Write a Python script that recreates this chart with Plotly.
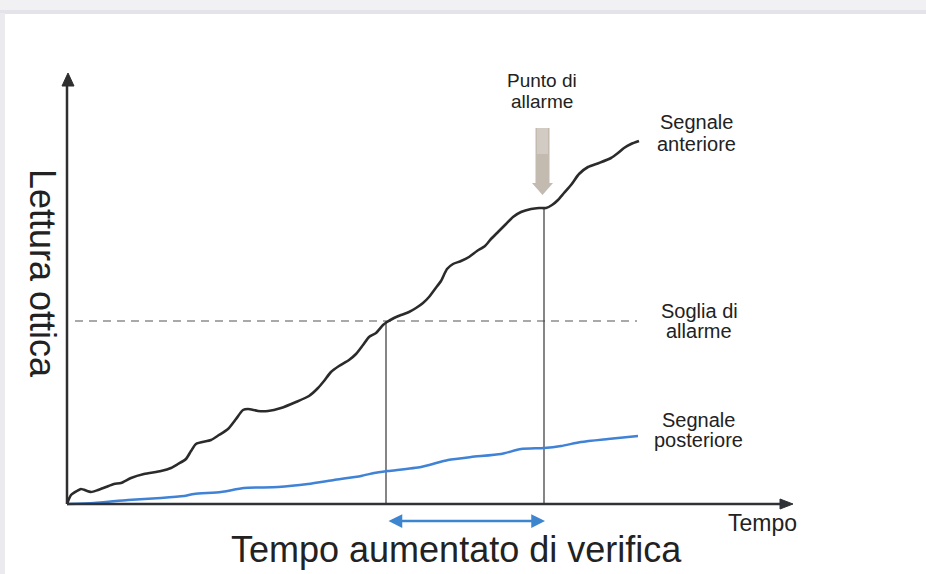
import plotly.graph_objects as go

# ---- data (time units, optical reading units) ----
anterior_t = [0, 4, 10, 14, 24, 31, 39, 47, 54, 64, 77, 94, 104, 111, 119, 124, 129, 144, 152, 161,
              169, 176, 181, 191, 201, 214, 229, 242, 251, 257, 264, 272, 282, 289, 296, 302, 309, 316,
              320, 327, 334, 342, 349, 356, 362, 368, 374, 380, 386, 394, 402, 410, 418, 424, 431, 439,
              446, 454, 464, 472, 479, 485, 491, 497, 504, 512, 521, 532, 544, 551, 557, 564, 572]
anterior_r = [0, 9, 13, 15, 12, 14, 17, 20, 21, 26, 30, 33, 36, 40, 45, 53, 60, 64, 69, 75,
              85, 94, 95, 93, 93, 96, 102, 108, 116, 123, 132, 138, 144, 150, 159, 167, 171, 179,
              182, 186, 189, 192, 196, 201, 207, 215, 223, 235, 240, 243, 247, 253, 258, 265, 272, 280,
              287, 292, 295, 296, 296, 299, 304, 311, 319, 330, 337, 341, 346, 351, 356, 360, 363]

posterior_t = [0, 27, 61, 94, 117, 127, 154, 177, 211, 241, 267, 294, 307, 321, 354, 381, 404, 434,
               454, 477, 494, 514, 541, 571]
posterior_r = [0, 1, 4, 6, 8, 10, 12, 16, 17, 20, 24, 28, 31, 33, 37, 44, 47, 50,
               55, 56, 58, 62, 65, 68]

threshold = 183
threshold_span = [8, 570]
cross_time = 319      # anterior signal crosses the threshold
alarm_time = 477      # alarm point
alarm_reading = 297

FONT = "Liberation Sans, Arial, sans-serif"
TXT = "#222222"

fig = go.Figure()

# threshold (dashed)
fig.add_trace(go.Scatter(x=threshold_span, y=[threshold, threshold], mode="lines",
                         line=dict(color="#a9a9a9", width=2, dash="8px,6px"),
                         hoverinfo="skip", showlegend=False))
# vertical markers
fig.add_trace(go.Scatter(x=[cross_time, cross_time], y=[0, threshold], mode="lines",
                         line=dict(color="#444444", width=1.3), hoverinfo="skip", showlegend=False))
fig.add_trace(go.Scatter(x=[alarm_time, alarm_time], y=[0, alarm_reading], mode="lines",
                         line=dict(color="#444444", width=1.3), hoverinfo="skip", showlegend=False))
# signals
fig.add_trace(go.Scatter(x=posterior_t, y=posterior_r, mode="lines",
                         line=dict(color="#3f82d6", width=2.5, shape="spline", smoothing=0.6),
                         name="Segnale posteriore", showlegend=False))
fig.add_trace(go.Scatter(x=anterior_t, y=anterior_r, mode="lines",
                         line=dict(color="#2b2b2b", width=2.6, shape="spline", smoothing=0.6),
                         name="Segnale anteriore", showlegend=False))

shapes = []
# frame bands (top and left)
shapes.append(dict(type="rect", xref="paper", yref="paper", x0=0, x1=1, y0=1 - 13 / 574, y1=1,
                   fillcolor="#f1f1f3", line=dict(width=0), layer="below"))
shapes.append(dict(type="rect", xref="paper", yref="paper", x0=0, x1=1, y0=1 - 14 / 574, y1=1 - 10 / 574,
                   fillcolor="#e3e3e9", line=dict(width=0), layer="below"))
shapes.append(dict(type="rect", xref="paper", yref="paper", x0=0, x1=5 / 926, y0=0, y1=1 - 13 / 574,
                   fillcolor="#ebebef", line=dict(width=0), layer="below"))
# axes
shapes.append(dict(type="line", x0=0, y0=0, x1=0, y1=420, line=dict(color="#2f2f2f", width=2.5)))
shapes.append(dict(type="path", path="M -5,418 L 1,431 L 7,418 Z", fillcolor="#2f2f2f",
                   line=dict(color="#2f2f2f", width=1)))
shapes.append(dict(type="line", x0=0, y0=0, x1=716, y1=0, line=dict(color="#2f3338", width=2.5)))
shapes.append(dict(type="path", path="M 713,-5 L 726,0 L 713,5 Z", fillcolor="#2f3338",
                   line=dict(color="#2f3338", width=1)))
# alarm arrow
shapes.append(dict(type="path", path="M 468.5,376 L 482.5,376 L 482.5,321 L 486,321 L 475.5,309 L 465,321 L 468.5,321 Z",
                   fillcolor="#c3bab0", line=dict(width=0)))
shapes.append(dict(type="rect", x0=470, x1=481, y0=350, y1=376, fillcolor="#d2cbc3", line=dict(width=0)))

annotations = []
def label(text, x, y, size=20, **kw):
    annotations.append(dict(text=text, x=x, y=y, xref="x", yref="y", showarrow=False,
                            xanchor="center", yanchor="middle",
                            font=dict(family=FONT, size=size, color=TXT), **kw))

label("Punto di", 475, 424, 19)
label("allarme", 475, 403, 19)
label("Segnale", 629, 382)
label("anteriore", 629, 360)
label("Soglia di", 632, 193)
label("allarme", 632, 173)
label("Segnale", 631, 84)
label("posteriore", 631, 64)
label("Tempo", 695, -19, 23)
label("Tempo aumentato di verifica", 389, -45, 36)
label("Lettura ottica", -24, 231, 36, textangle=90)

# double arrow for the increased verification time
annotations.append(dict(x=alarm_time + 1, y=-17, ax=cross_time + 1, ay=-17, xref="x", yref="y",
                        axref="x", ayref="y", text="", showarrow=True, arrowhead=2, arrowside="end+start",
                        arrowsize=1.1, arrowwidth=2.5, arrowcolor="#3d86cf", standoff=0, startstandoff=0))

fig.update_layout(
    width=926, height=574, autosize=False,
    margin=dict(l=0, r=0, t=0, b=0),
    paper_bgcolor="white", plot_bgcolor="white",
    xaxis=dict(range=[-67, 859], visible=False, fixedrange=True),
    yaxis=dict(range=[-70, 504], visible=False, fixedrange=True),
    shapes=shapes, annotations=annotations,
    showlegend=False,
)

fig.write_html("out.html", config={"displayModeBar": False},
               post_script="document.body.style.margin='0';document.body.style.overflow='hidden';")
